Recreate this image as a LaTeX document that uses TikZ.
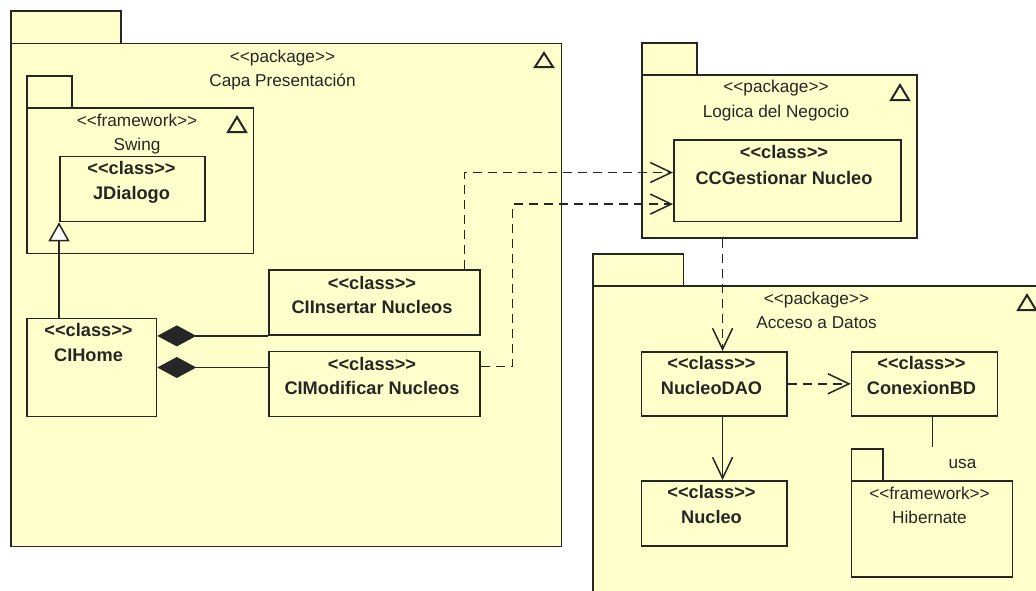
\documentclass[tikz,border=0pt]{standalone}
\usepackage{fontspec}
\newfontfamily\umlfont{Liberation Sans}
\usetikzlibrary{arrows.meta}
\definecolor{pkgfill}{HTML}{FFFFCC}
\definecolor{ink}{HTML}{262626}
\tikzset{
  box/.style={draw=ink, fill=pkgfill, line width=1.6pt, inner sep=0pt, anchor=north west},
  txt/.style={inner sep=0pt, anchor=base, text=ink, font=\umlfont\fontsize{17.2}{20}\selectfont},
  btxt/.style={inner sep=0pt, anchor=base, text=ink, font=\umlfont\fontsize{18.2}{21}\selectfont\bfseries},
  conn/.style={line width=1.5pt, draw=ink},
  dep/.style={conn, dash pattern=on 9pt off 6pt, -{Straight Barb[length=21pt,width=20pt]}},
  nav/.style={conn, -{Straight Barb[length=21pt,width=20pt]}},
  comp/.style={conn, {Diamond[length=39pt,width=21pt,fill=ink]}-},
  gen/.style={conn, -{Triangle[length=19pt,width=21pt,fill=white]}},
  delta/.style={draw=ink, line width=2pt, line join=miter},
}
\begin{document}
\begin{tikzpicture}[x=1pt,y=-1pt]
\useasboundingbox (0,0) rectangle (1036,590);
\clip (0,0) rectangle (1036,590);

% ---- Capa Presentacion
\node[box, minimum width=110pt, minimum height=32.7pt] (capatab) at (10,10) {};
\node[box, minimum width=550.5pt, minimum height=503pt] (capa) at (10,42.7) {};
\node[txt] (capast) at (282.5,62.5) {<<package>>};
\node[txt] (capanm) at (282.5,86) {Capa Presentación};
\draw[delta] (544,53) -- (535,67) -- (553,67) -- cycle;

% Swing framework
\node[box, minimum width=45pt, minimum height=32pt] (swingtab) at (26,75) {};
\node[box, minimum width=226.7pt, minimum height=145.7pt] (swing) at (26,107) {};
\node[txt] (swingst) at (137,126) {<<framework>>};
\node[txt] (swingnm) at (137,150) {Swing};
\draw[delta] (237,117) -- (228,132) -- (246,132) -- cycle;

\node[box, minimum width=145pt, minimum height=65pt] (jd) at (59,155.7) {};
\node[btxt] (jdst) at (131.5,174) {<<class>>};
\node[btxt] (jdnm) at (131.5,199) {JDialogo};

\node[box, minimum width=129.7pt, minimum height=98pt] (home) at (26,317.7) {};
\node[btxt] (homest) at (88.5,336.7) {<<class>>};
\node[btxt] (homenm) at (88.5,361.7) {CIHome};

\node[box, minimum width=211pt, minimum height=65pt] (ins) at (268.3,269.3) {};
\node[btxt] (insst) at (372,289) {<<class>>};
\node[btxt] (insnm) at (372,313) {CIInsertar Nucleos};

\node[box, minimum width=211pt, minimum height=65pt] (mod) at (268.3,350.7) {};
\node[btxt] (modst) at (372,370) {<<class>>};
\node[btxt] (modnm) at (372,394) {CIModificar Nucleos};

% ---- Logica del Negocio
\node[box, minimum width=55pt, minimum height=32pt] (logicatab) at (641,42) {};
\node[box, minimum width=275pt, minimum height=163pt] (logica) at (641,74) {};
\node[txt] (logicast) at (776,92.7) {<<package>>};
\node[txt] (logicanm) at (776,117) {Logica del Negocio};
\draw[delta] (900,85) -- (891,100) -- (909,100) -- cycle;

\node[box, minimum width=227pt, minimum height=81.4pt] (ccg) at (673,139.3) {};
\node[btxt] (ccgst) at (784,158.3) {<<class>>};
\node[btxt] (ccgnm) at (784,184) {CCGestionar Nucleo};

% ---- Acceso a Datos
\node[box, minimum width=90.7pt, minimum height=31.7pt] (accesotab) at (592,253.3) {};
\node[box, minimum width=450pt, minimum height=330pt] (acceso) at (592,285) {};
\node[txt] (accesost) at (816.5,304) {<<package>>};
\node[txt] (accesonm) at (816.5,328) {Acceso a Datos};
\draw[delta] (1027,295) -- (1018,310) -- (1036,310) -- cycle;

\node[box, minimum width=145.3pt, minimum height=64pt] (dao) at (640.7,351) {};
\node[btxt] (daost) at (711.5,369.3) {<<class>>};
\node[btxt] (daonm) at (711.5,394) {NucleoDAO};

\node[box, minimum width=146pt, minimum height=64pt] (conx) at (850.7,351) {};
\node[btxt] (conxst) at (921.5,369.3) {<<class>>};
\node[btxt] (conxnm) at (921.5,394) {ConexionBD};

\node[box, minimum width=145.3pt, minimum height=65pt] (nucleo) at (640.7,480) {};
\node[btxt] (nucleost) at (711.5,498.3) {<<class>>};
\node[btxt] (nucleonm) at (711.5,523.3) {Nucleo};

\node[box, minimum width=31.6pt, minimum height=31.7pt] (hibtab) at (850.7,448.3) {};
\node[box, minimum width=161pt, minimum height=96pt] (hib) at (850.7,480) {};
\node[txt] (hibst) at (929.5,499) {<<framework>>};
\node[txt] (hibnm) at (929.5,523) {Hibernate};

\node[txt] (usa) at (962.5,468) {usa};

% ---- connectors
\draw[gen] (jd.south west |- home.north) -- (jd.south west);
\draw[comp] (home.east |- ins.south) -- (ins.south west);
\draw[comp] (home.east) -- (home.east -| mod.west);
\draw[dep] ([xshift=-16.6pt]ins.north east) |- ([yshift=8.3pt]ccg.west);
\draw[dep] ([yshift=17.5pt]mod.east) -- ++(31.7,0) |- ([yshift=-23.3pt]ccg.west);
\draw[dep] ([xshift=8.4pt]dao.north |- logica.south) -- ([xshift=8.4pt]dao.north);
\draw[nav] ([xshift=8.4pt]dao.south) -- ([xshift=8.4pt]dao.south |- nucleo.north);
\draw[dep] (dao.east) -- (conx.west);
\coordinate (usaend) at (932.3,447);
\draw[conn] (usaend |- conx.south) -- (usaend);
\end{tikzpicture}
\end{document}
